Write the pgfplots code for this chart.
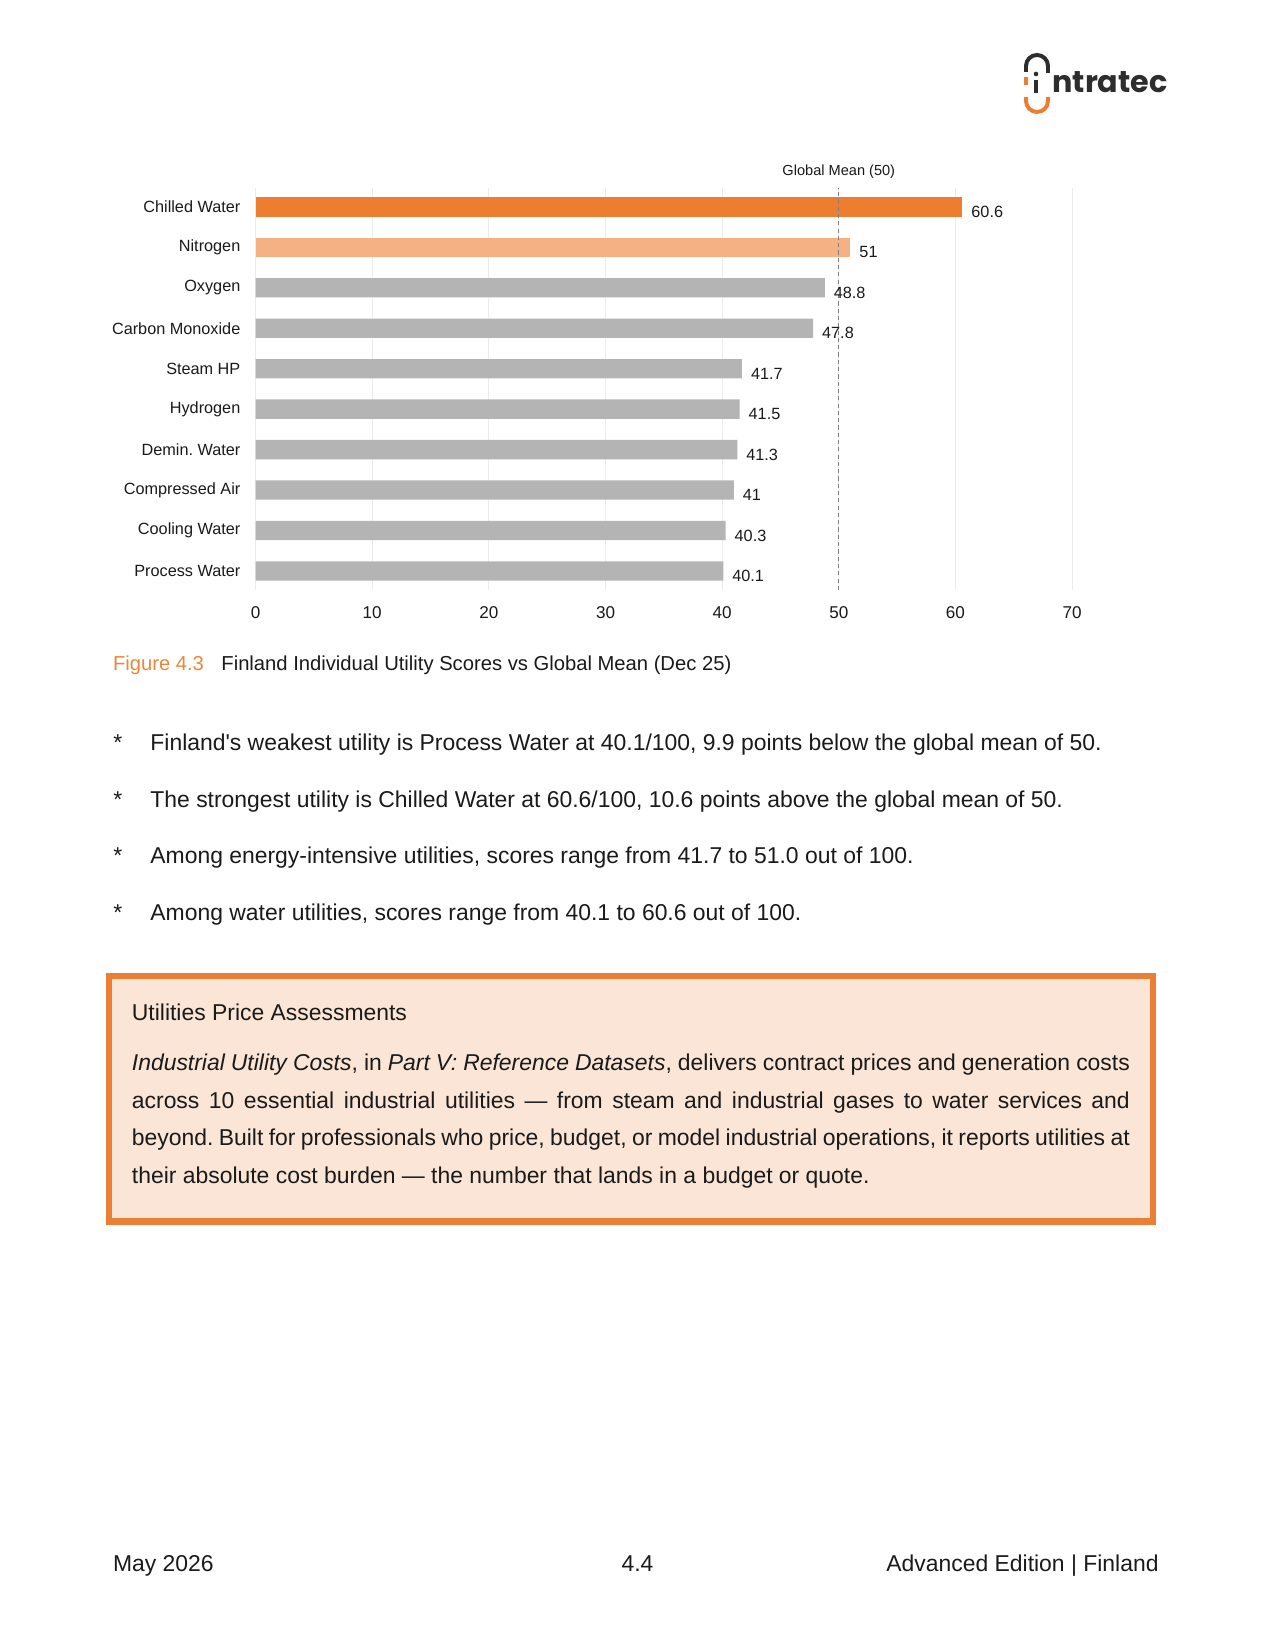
\documentclass[border=0pt]{standalone}
\usepackage{pgfplots}
\pgfplotsset{compat=1.18}
\usepackage{fontspec}
\setmainfont{Liberation Sans}
\newfontfamily\logofont{Poppins}
\definecolor{orangeA}{HTML}{ED7D31}
\definecolor{orangeL}{HTML}{F4B183}
\definecolor{barGray}{HTML}{B4B4B4}
\definecolor{capOrange}{HTML}{E9883D}
\definecolor{boxFill}{HTML}{FBE5D6}
\definecolor{boxLine}{HTML}{EC7F36}
\definecolor{logoDark}{HTML}{2D2D2D}
\definecolor{txt}{HTML}{1A1A1A}
\frenchspacing
\begin{document}
\begin{tikzpicture}
\begin{scope}[x=0.48pt,y=0.48pt]
\fill[white] (0,0) rectangle (1275,1650);
\useasboundingbox (0,0) rectangle (1275,1650);
% logo
\draw[logoDark, line width=1.9pt] (1026,1578) -- (1026,1584) arc (180:0:11) -- (1048,1577);
\draw[orangeA, line width=1.9pt] (1026,1573) -- (1026,1565);
\draw[logoDark, line width=1.9pt] (1036,1570) -- (1036,1557);
\fill[logoDark] (1036,1576) circle (2.3);
\draw[orangeA, line width=1.9pt] (1026,1553) -- (1026,1549) arc (180:360:11) -- (1048,1553);
\node[anchor=base west, inner sep=0, text=logoDark, font=\logofont\bfseries\fontsize{14.5}{16}\selectfont] at (1052,1557) {ntratec};
\end{scope}
% chart
\begin{axis}[at={(122.69pt,508.8pt)}, anchor=south west, scale only axis,
  width=391.9pt, height=193pt,
  xmin=0, xmax=70, ymin=-0.47, ymax=9.47,
  xtick={0,10,...,70}, ytick={0,...,9},
  yticklabels={Process Water, Cooling Water, Compressed Air, Demin. Water, Hydrogen, Steam HP, Carbon Monoxide, Oxygen, Nitrogen, Chilled Water},
  xmajorgrids, major grid style={draw=black!8, line width=0.4pt},
  axis line style={draw=none}, major tick length=0pt,
  /pgf/number format/assume math mode=true,
  xticklabel style={font=\fontsize{8.2}{10}\selectfont, yshift=-4.4pt, text=txt},
  yticklabel style={font=\fontsize{7.8}{10}\selectfont, xshift=-3.8pt, text=txt},
  point meta=x,
  nodes near coords,
  nodes near coords style={font=\fontsize{7.8}{10}\selectfont, anchor=west, xshift=0.8pt, yshift=-2.4pt, text=txt},
  clip=false]
\addplot[xbar, bar width=9.3pt, bar shift=0pt, fill=orangeA, draw=none, point meta=x] coordinates {(60.6,9)};
\addplot[xbar, bar width=9.3pt, bar shift=0pt, fill=orangeL, draw=none, point meta=x] coordinates {(51,8)};
\addplot[xbar, bar width=9.3pt, bar shift=0pt, fill=barGray, draw=none, point meta=x] coordinates {(48.8,7) (47.8,6) (41.7,5) (41.5,4) (41.3,3) (41,2) (40.3,1) (40.1,0)};
\draw[dash pattern=on 2pt off 1.5pt, color=black!50, line width=0.6pt] (axis cs:50,-0.47) -- (axis cs:50,9.47);
\node[anchor=base, font=\fontsize{7}{8}\selectfont, yshift=6pt, text=txt] at (axis cs:50,9.47) {Global Mean (50)};
\end{axis}
\begin{scope}[x=0.48pt,y=0.48pt]
% caption
\node[anchor=base west, inner sep=0, text=capOrange, font=\fontsize{9.7}{12}\selectfont] at (112.6,979) {Figure 4.3};
\node[anchor=base west, inner sep=0, text=txt, font=\fontsize{9.7}{12}\selectfont] at (221,979) {Finland Individual Utility Scores vs Global Mean (Dec 25)};
% bullets
\begin{scope}[every node/.style={anchor=base west, inner sep=0, text=txt, font=\fontsize{11}{13}\selectfont}]
\node at (113,899) {*};
\node at (150,899) {Finland\textquotesingle s weakest utility is Process Water at 40.1/100, 9.9 points below the global mean of 50.};
\node at (113,842.5) {*};
\node at (150,842.5) {The strongest utility is Chilled Water at 60.6/100, 10.6 points above the global mean of 50.};
\node at (113,786) {*};
\node at (150,786) {Among energy-intensive utilities, scores range from 41.7 to 51.0 out of 100.};
\node at (113,729) {*};
\node at (150,729) {Among water utilities, scores range from 40.1 to 60.6 out of 100.};
\end{scope}
% box
\fill[boxFill] (106.3,425.5) rectangle (1156.1,677);
\draw[boxLine, line width=2.9pt] (109.3,428.5) rectangle (1153.1,674);
\begin{scope}[every node/.style={anchor=base west, inner sep=0, text=txt, font=\fontsize{11}{13}\selectfont}]
\node at (131.5,629) {Utilities Price Assessments};
\node at (131.5,579) {\makebox[479pt][s]{\textit{Industrial Utility Costs}, in \textit{Part V: Reference Datasets}, delivers contract prices and generation costs}};
\node at (131.5,541) {\makebox[479pt][s]{across 10 essential industrial utilities — from steam and industrial gases to water services and}};
\node at (131.5,504) {\makebox[479pt][s]{beyond. Built for professionals who price, budget, or model industrial operations, it reports utilities at}};
\node at (131.5,466) {their absolute cost burden — the number that lands in a budget or quote.};
% footer
\node at (112.6,78) {May 2026};
\node[anchor=base] at (637.5,78) {4.4};
\node[anchor=base east] at (1159,78) {Advanced Edition | Finland};
\end{scope}
\end{scope}
\end{tikzpicture}
\end{document}
